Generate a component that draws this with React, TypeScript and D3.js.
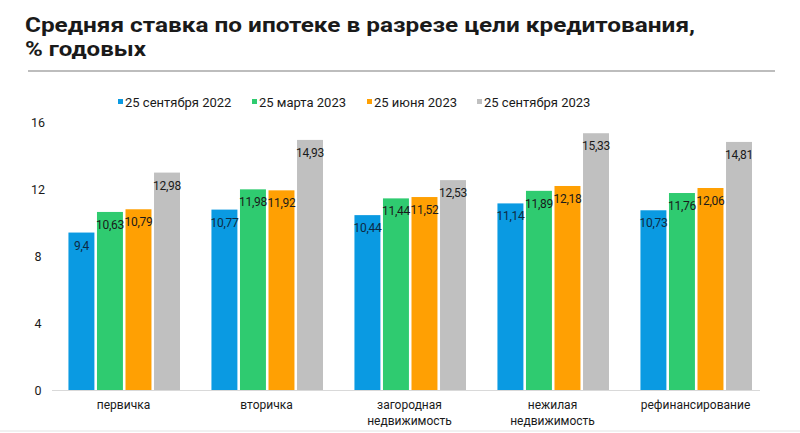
import React from "react";
import * as d3 from "d3";

const categories = ["первичка", "вторичка", "загородная\nнедвижимость", "нежилая\nнедвижимость", "рефинансирование"];
const seriesNames = ["25 сентября 2022", "25 марта 2023", "25 июня 2023", "25 сентября 2023"];
const sep2022 = [9.4, 10.77, 10.44, 11.14, 10.73];
const mar2023 = [10.63, 11.98, 11.44, 11.89, 11.76];
const jun2023 = [10.79, 11.92, 11.52, 12.18, 12.06];
const sep2023 = [12.98, 14.93, 12.53, 15.33, 14.81];
const yTicks = [0, 4, 8, 12, 16];
const colors = ["#0a9ae2", "#2fcb70", "#ffa003", "#c0c0c0"];

const seriesValues = [sep2022, mar2023, jun2023, sep2023];
const FONT = "Roboto, 'Noto Sans', sans-serif";

export default function App() {
  const W = 800, H = 433;
  const x0 = d3.scaleBand<string>().domain(categories).range([52, 767]).padding(0);
  const bw = x0.bandwidth();
  const x1 = d3.scaleBand<string>().domain(seriesNames).range([bw * 0.115, bw * 0.895]).paddingInner(0.09);
  const y = d3.scaleLinear().domain([0, 16]).range([390, 122]);
  const fmt = (v: number) => String(v).replace(".", ",");
  const legendX = [118, 252, 367, 477];

  return (
    <svg width={W} height={H} style={{ position: "absolute", left: 0, top: 0, background: "#fff" }} fontFamily={FONT}>
      <rect x={0} y={0} width={W} height={H} fill="#fff" />
      <text x={25} y={32} fontSize={21} fontWeight={700} fill="#1a1a1a" textLength={670} lengthAdjust="spacingAndGlyphs">Средняя ставка по ипотеке в разрезе цели кредитования,</text>
      <text x={25} y={56} fontSize={21} fontWeight={700} fill="#1a1a1a" textLength={121} lengthAdjust="spacingAndGlyphs">% годовых</text>
      <line x1={28} x2={775} y1={71} y2={71} stroke="#bdbdbd" strokeWidth={2} />

      {seriesNames.map((s, i) => (
        <g key={s}>
          <rect x={legendX[i]} y={99} width={5} height={5} fill={colors[i]} />
          <text x={legendX[i] + 7} y={106.5} fontSize={13} fill="#1a1a1a">{s}</text>
        </g>
      ))}

      {yTicks.map((t) => (
        <text key={t} x={38} y={y(t) + 4.5} fontSize={12.5} textAnchor="middle" fill="#1a1a1a">{t}</text>
      ))}

      <line x1={52} x2={760} y1={390.5} y2={390.5} stroke="#d9d9d9" strokeWidth={1} />
      <line x1={0} x2={800} y1={431} y2={431} stroke="#ececec" strokeWidth={1.5} />

      {categories.map((c, ci) => (
        <g key={c} transform={`translate(${x0(c)},0)`}>
          {seriesNames.map((s, si) => {
            const v = seriesValues[si][ci];
            const bx = x1(s)!;
            return (
              <g key={s}>
                <rect x={bx} y={y(v)} width={x1.bandwidth()} height={y(0) - y(v)} fill={colors[si]} />
                <text x={bx + x1.bandwidth() / 2} y={y(v) + 17} fontSize={12} textAnchor="middle" fill={si === 0 ? "#0d2a44" : "#1a1a1a"} letterSpacing={-0.3}>{fmt(v)}</text>
              </g>
            );
          })}
          {c.split("\n").map((line, li) => (
            <text key={li} x={bw / 2} y={409 + li * 16} fontSize={12} textAnchor="middle" fill="#1a1a1a">{line}</text>
          ))}
        </g>
      ))}
    </svg>
  );
}
